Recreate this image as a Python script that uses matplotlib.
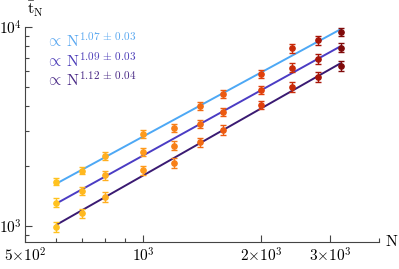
import numpy as np
import matplotlib
matplotlib.use("Agg")
import matplotlib.pyplot as plt
from matplotlib.ticker import FixedLocator, NullFormatter

plt.rcParams['mathtext.fontset'] = 'cm'
plt.rcParams['font.family'] = 'DejaVu Serif'

# ---- data ----
N = [600, 700, 800, 1000, 1200, 1400, 1600, 2000, 2400, 2800, 3200]
t_top = [1670, 1900, 2250, 2900, 3120, 4010, 4600, 5810, 7820, 8610, 9460]
t_mid = [1310, 1500, 1800, 2360, 2530, 3260, 3750, 4820, 6250, 6900, 7870]
t_bot = [990, 1160, 1400, 1910, 2070, 2630, 3040, 4060, 5010, 5620, 6370]
e_top = [70, 80, 100, 130, 150, 180, 200, 250, 400, 450, 480]
e_mid = [70, 70, 100, 120, 130, 160, 180, 230, 330, 380, 400]
e_bot = [60, 60, 80, 100, 120, 140, 160, 200, 300, 330, 380]
exponents = [1.07, 1.09, 1.12]
exp_errs = [0.03, 0.03, 0.04]
point_colors = ['#FFC21F', '#FFB81F', '#FFAE1F', '#FF9A1A', '#F77F18', '#F26A12',
                '#EC5A10', '#E0400C', '#C82A08', '#A81508', '#800A0A']
line_colors = ['#4DA8F5', '#4B3CC4', '#3A1A72']
text_colors = ['#5AA8F0', '#4B3CB8', '#4A2A86']

xticks = [500, 1000, 2000, 3000]
xticklabels = [r'$5{\times}10^2$', r'$10^3$', r'$2{\times}10^3$', r'$3{\times}10^3$']
yticks = [1000, 10000]
yticklabels = [r'$10^3$', r'$10^4$']

fig = plt.figure(figsize=(3.99, 2.69), dpi=100)
ax = fig.add_axes([0.0627, 0.1004, 0.8873, 0.7992])
ax.set_xscale('log')
ax.set_yscale('log')
ax.set_xlim(500, 4000)
ax.set_ylim(831, 10000)

Narr = np.array(N, dtype=float)
series = [(t_top, e_top), (t_mid, e_mid), (t_bot, e_bot)]
for (vals, errs), k, lc in zip(series, exponents, line_colors):
    v = np.array(vals, dtype=float)
    a = np.mean(np.log10(v) - k * np.log10(Narr))
    xs = np.array([Narr[0], Narr[-1]])
    ax.plot(xs, 10 ** (a + k * np.log10(xs)), color=lc, lw=1.4, zorder=2, solid_capstyle='butt')

for (vals, errs) in series:
    for n, v, e, c in zip(N, vals, errs, point_colors):
        ax.errorbar([n], [v], yerr=[e], fmt='o', color=c, ecolor=c, elinewidth=1.0,
                    capsize=2.2, capthick=1.0, markersize=3.8, zorder=3, alpha=1)

for spine in ['top', 'right']:
    ax.spines[spine].set_visible(False)
for spine in ['left', 'bottom']:
    ax.spines[spine].set_color('#444444')
    ax.spines[spine].set_linewidth(0.8)

ax.xaxis.set_major_locator(FixedLocator(xticks))
ax.set_xticklabels(xticklabels)
ax.xaxis.set_minor_locator(FixedLocator([600, 700, 800, 900, 4000]))
ax.xaxis.set_minor_formatter(NullFormatter())
ax.yaxis.set_major_locator(FixedLocator(yticks))
ax.set_yticklabels(yticklabels)
ax.yaxis.set_minor_locator(FixedLocator([900, 2000, 3000, 4000, 5000, 6000, 7000, 8000, 9000]))
ax.yaxis.set_minor_formatter(NullFormatter())
ax.tick_params(which='major', direction='in', length=5, width=0.8, color='#444444',
               labelsize=11)
ax.tick_params(axis='x', which='major', pad=3)
ax.tick_params(axis='y', which='major', pad=2)
ax.tick_params(which='minor', direction='in', length=3, width=0.8, color='#444444')

fig.text(27 / 399, 1 - 9 / 269, r'$\bar{\mathrm{t}}_{\mathrm{N}}$', fontsize=11.5,
         ha='left', va='center')
fig.text(385 / 399, 1 - 242 / 269, r'$\mathrm{N}$', fontsize=11.5, ha='left', va='center')

ys = [41, 61, 80]
for k, ke, tc, yy in zip(exponents, exp_errs, text_colors, ys):
    fig.text(46 / 399, 1 - yy / 269,
             r'$\propto\,\mathrm{N}^{%.2f\,\pm\,%.2f}$' % (k, ke),
             fontsize=11.5, color=tc, ha='left', va='center')

fig.savefig('out.png', dpi=100)
